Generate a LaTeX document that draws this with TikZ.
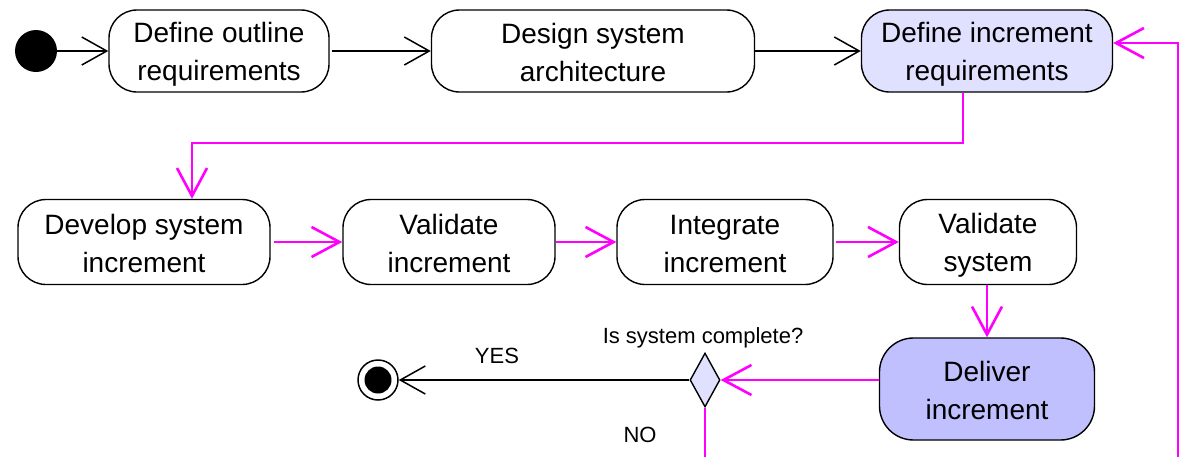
\documentclass[tikz,border=0pt]{standalone}
\usepackage{fontspec}
\setmainfont{Liberation Sans}
\usetikzlibrary{arrows.meta,shapes.geometric}
\definecolor{mag}{HTML}{FF00FF}
\definecolor{lightlav}{HTML}{E0E0FF}
\definecolor{midlav}{HTML}{C0C0FF}
\newcommand\lstrut{\rule[-4pt]{0pt}{31pt}}
\begin{document}
\begin{tikzpicture}[x=1pt,y=-1pt,
  act/.style={draw=black, line width=1.4pt, rounded corners=28pt, fill=white,
    align=center, inner sep=2pt, font=\fontsize{28}{37.5}\selectfont},
  blk/.style={draw=black, line width=1.5pt, -{Straight Barb[length=25pt,width=28pt]}},
  mg/.style={draw=mag, line width=2.6pt, -{Straight Barb[length=28pt,width=30pt]}},
  lbl/.style={font=\fontsize{22}{26}\selectfont, inner sep=0pt}]
\clip (0,0) rectangle (1186,456);
\fill[white] (0,0) rectangle (1186,456);
% start
\node[circle, fill=black, minimum size=42pt, inner sep=0pt] (s) at (36,51) {};
% activities
\node[act, minimum width=220pt, minimum height=82pt] (b1) at (219,51) {\lstrut Define outline\\\lstrut requirements};
\node[act, minimum width=323pt, minimum height=82pt] (b2) at (593,51) {\lstrut Design system\\\lstrut architecture};
\node[act, fill=lightlav, minimum width=251pt, minimum height=82pt] (b3) at (987,51) {\lstrut Define increment\\\lstrut requirements};
\node[act, minimum width=252pt, minimum height=85pt] (b4) at (144,242) {\lstrut Develop system\\\lstrut increment};
\node[act, minimum width=212pt, minimum height=85pt] (b5) at (449,242) {\lstrut Validate\\\lstrut increment};
\node[act, minimum width=216pt, minimum height=85pt] (b6) at (725,242) {\lstrut Integrate\\\lstrut increment};
\node[act, minimum width=177pt, minimum height=85pt] (b7) at (988,242) {\lstrut Validate\\\lstrut system};
\node[act, fill=midlav, rounded corners=34pt, minimum width=215pt, minimum height=102pt] (b8) at (987,389) {\lstrut Deliver\\\lstrut increment};
% decision
\node[diamond, draw=black, line width=1.4pt, fill=lightlav, minimum width=30pt, minimum height=54pt, inner sep=0pt] (d) at (705,380) {};
% final
\node[circle, draw=black, line width=1.5pt, fill=white, minimum size=40pt, inner sep=0pt] (f) at (378,380) {};
\node[circle, fill=black, minimum size=27pt, inner sep=0pt] (fi) at (378,380) {};
% coordinates for loop
\coordinate (c1) at (963,143);
\coordinate (c2) at (192,143);
\coordinate (lb) at (705,520);
\coordinate (rb) at (1178,520);
\coordinate (rt) at (1178,43);
% black connectors
\draw[blk] (s) -- (b1);
\draw[blk, shorten <=2pt] (b1) -- (b2);
\draw[blk] (b2) -- (b3);
\draw[blk] (d.west) -- (f);
% magenta connectors
\draw[mg] (c1 |- b3.south) -- (c1) -- (c2) -- (c2 |- b4.north);
\draw[mg, shorten <=3pt] (b4) -- (b5);
\draw[mg] (b5) -- (b6);
\draw[mg, shorten <=2pt] (b6) -- (b7);
\draw[mg] (b8.north |- b7.south) -- (b8.north);
\draw[mg] (d.east -| b8.west) -- (d.east);
\draw[mg] (d.south) -- (lb) -- (rb) -- (rt) -- (rt -| b3.east);
% labels
\node[lbl] (yes) at (497,356) {YES};
\node[lbl] (q) at (703,338) {Is system complete?};
\node[lbl] (no) at (640,435) {NO};
\end{tikzpicture}
\end{document}
